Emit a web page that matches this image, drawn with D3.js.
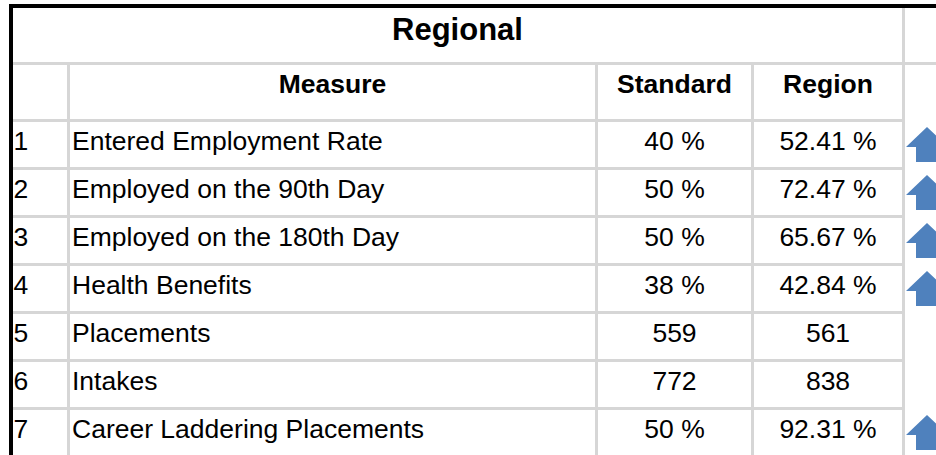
<!DOCTYPE html>
<html>
<head>
<meta charset="utf-8">
<script src="https://cdn.jsdelivr.net/npm/d3@7"></script>
<style>
  html, body { margin: 0; padding: 0; background: #fff; }
  svg { display: block; }
  text { font-family: "Liberation Sans", Arial, sans-serif; fill: #000; }
</style>
</head>
<body>
<svg id="chart" width="936" height="455"></svg>
<script>
// ---- data ----
const title = "Regional";
const headers = ["", "Measure", "Standard", "Region"];
const rowIds = ["1", "2", "3", "4", "5", "6", "7"];
const measures = [
  "Entered Employment Rate",
  "Employed on the 90th Day",
  "Employed on the 180th Day",
  "Health Benefits",
  "Placements",
  "Intakes",
  "Career Laddering Placements"
];
const standardValues = [40, 50, 50, 38, 559, 772, 50];
const regionValues = [52.41, 72.47, 65.67, 42.84, 561, 838, 92.31];
const isPercent = [true, true, true, true, false, false, true];
const trend = ["up", "up", "up", "up", "", "", "up"];

// ---- layout ----
const W = 936, H = 455;
const gridColor = "#d6d6d6";
const lineW = 3;
const colEdges = [13, 67, 595, 751, 902]; // left edges of lines (col boundaries)
const titleTop = 8, titleBottom = 62, headerBottom = 119;
const bodyTop = 122, rowPitch = 48;
const fontSize = 26.5;

const svg = d3.select("#chart");

const fmt = (v, pct) => pct ? `${v} %` : `${v}`;

// row band scale
const y = d3.scaleBand()
  .domain(rowIds)
  .range([bodyTop, bodyTop + rowIds.length * rowPitch])
  .paddingInner(0).paddingOuter(0);

// column centres via a band scale over the four content columns
const colNames = ["num", "measure", "standard", "region"];
const colLeft = i => (i === 0 ? colEdges[0] : colEdges[i] + lineW);
const colRight = i => colEdges[i + 1];
const colCenter = i => (colLeft(i) + colRight(i)) / 2;

// ---- grid lines ----
const g = svg.append("g");
// title row bottom line (spans full width)
g.append("rect").attr("x", 13).attr("y", titleBottom).attr("width", W - 13).attr("height", lineW).attr("fill", gridColor);
// header bottom
g.append("rect").attr("x", 13).attr("y", headerBottom).attr("width", colEdges[4] - 13).attr("height", lineW).attr("fill", gridColor);
// body row lines
g.selectAll("rect.rowline").data(rowIds).join("rect").attr("class", "rowline")
  .attr("x", 13).attr("y", d => y(d) + y.bandwidth() - lineW)
  .attr("width", colEdges[4] - 13).attr("height", lineW).attr("fill", gridColor);
// vertical inner lines (from header row down)
g.selectAll("rect.vline").data(colEdges.slice(1, 4)).join("rect").attr("class", "vline")
  .attr("x", d => d).attr("y", titleBottom + lineW).attr("width", lineW).attr("height", H).attr("fill", gridColor);
// right vertical line (from title down)
g.append("rect").attr("x", colEdges[4]).attr("y", titleTop).attr("width", lineW).attr("height", H).attr("fill", gridColor);

// black outer borders
svg.append("rect").attr("x", 9).attr("y", 4).attr("width", W - 9).attr("height", 4).attr("fill", "#000");
svg.append("rect").attr("x", 9).attr("y", 4).attr("width", 4).attr("height", H).attr("fill", "#000");

// ---- title ----
svg.append("text")
  .attr("x", (13 + colEdges[4]) / 2).attr("y", 40)
  .attr("text-anchor", "middle")
  .style("font-size", "31px").style("font-weight", "bold")
  .text(title);

// ---- headers ----
svg.selectAll("text.hdr").data(headers).join("text").attr("class", "hdr")
  .attr("x", (d, i) => colCenter(i)).attr("y", 93)
  .attr("text-anchor", "middle")
  .style("font-size", fontSize + "px").style("font-weight", "bold")
  .text(d => d);

// ---- body ----
const rows = rowIds.map((id, i) => ({
  id, measure: measures[i],
  std: fmt(standardValues[i], isPercent[i]),
  reg: fmt(regionValues[i], isPercent[i]),
  trend: trend[i]
}));

const rg = svg.selectAll("g.row").data(rows).join("g").attr("class", "row")
  .attr("transform", d => `translate(0,${y(d.id)})`);

rg.append("text").attr("x", 13.5).attr("y", 28).style("font-size", fontSize + "px").text(d => d.id);
rg.append("text").attr("x", 72).attr("y", 28).style("font-size", fontSize + "px").text(d => d.measure);
rg.append("text").attr("x", colCenter(2)).attr("y", 28).attr("text-anchor", "middle").style("font-size", fontSize + "px").text(d => d.std);
rg.append("text").attr("x", colCenter(3)).attr("y", 28).attr("text-anchor", "middle").style("font-size", fontSize + "px").text(d => d.reg);

// up arrows
const ax = 927, headHalf = 21, shaftHalf = 11, aTop = 5, headH = 20, aBottom = 40;
const arrowPath = d3.line()([
  [ax, aTop], [ax + headHalf, aTop + headH], [ax + shaftHalf, aTop + headH],
  [ax + shaftHalf, aBottom], [ax - shaftHalf, aBottom], [ax - shaftHalf, aTop + headH],
  [ax - headHalf, aTop + headH]
]) + "Z";
rg.filter(d => d.trend === "up").append("path")
  .attr("d", arrowPath).attr("fill", "#4f81bd");
</script>
</body>
</html>
